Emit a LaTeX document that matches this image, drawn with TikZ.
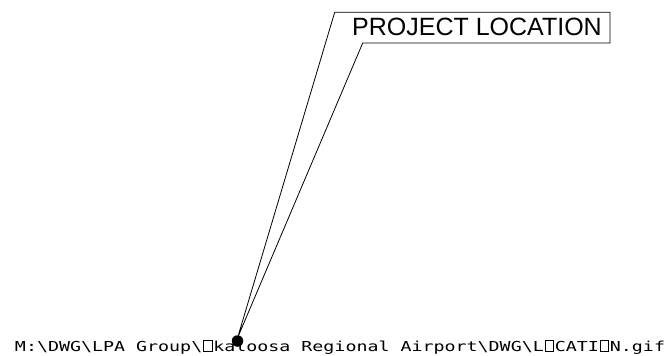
\documentclass[tikz,border=0pt]{standalone}
\usepackage{fontspec}
\setmainfont{Liberation Sans}
\newfontfamily\cadfont{DejaVu Sans Mono}
\usepackage{tikz}
\newcommand\nobox{\makebox[0.602em]{\fboxsep=0pt\fboxrule=0.9pt\fbox{\rule{0pt}{0.73em}\hspace{0.42em}}}}

\begin{document}
\begin{tikzpicture}[x=1pt, y=-1pt, line width=0.8pt, every node/.style={inner sep=0pt, outer sep=0pt}]
      \useasboundingbox (0,0) rectangle (670,356);

      \node[anchor=base] (1) at (477,35.7){\fontsize{25}{25}\selectfont PROJECT LOCATION};
      \node[anchor=base west] (2) at (15,351){\scalebox{1}[0.75]{\cadfont\fontsize{18.3}{18.3}\selectfont M:\textbackslash DWG\textbackslash LPA Group\textbackslash\nobox kaloosa Regional Airport\textbackslash DWG\textbackslash L\nobox CATI\nobox N.gif}};
      \coordinate (3) at (334.7,12.3);
      \coordinate (4) at (610,12.3);
      \coordinate (5) at (610,43);
      \coordinate (6) at (362.7,43);
      \coordinate (7) at (237.5,338);
      \node[circle, fill, minimum size=11.5pt] (8) at (237.5,341){};

      \draw[-] (7) -- (3) -- (4) -- (5) -- (6) -- cycle;

    \end{tikzpicture}
\end{document}
